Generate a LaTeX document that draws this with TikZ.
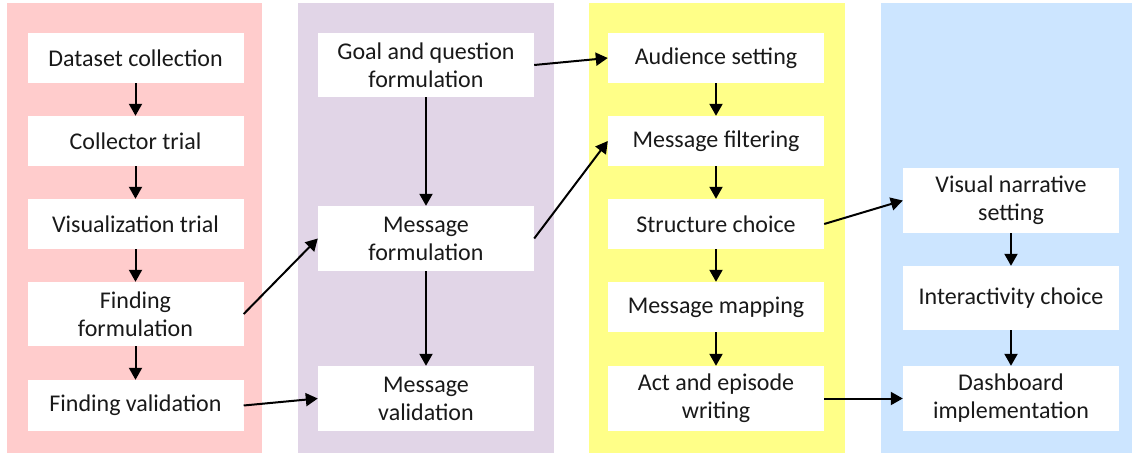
\documentclass[tikz,border=0pt]{standalone}
\usepackage{fontspec}
\setmainfont{Carlito}
\usetikzlibrary{arrows.meta}
\definecolor{cpink}{HTML}{FFCCCC}
\definecolor{cpurple}{HTML}{E1D5E7}
\definecolor{cyellow}{HTML}{FFFF88}
\definecolor{cblue}{HTML}{CCE5FF}
\tikzset{
  box/.style={rectangle, fill=white, draw=none, minimum width=216pt, inner sep=0pt, align=center, font=\fontsize{24}{28}\selectfont, text=black!90},
  hone/.style={minimum height=50pt},
  htwo/.style={minimum height=65pt},
  arr/.style={-{Triangle[length=12pt,width=13pt]}, line width=2pt, black},
  panel/.style={draw=none}
}
\begin{document}
\begin{tikzpicture}[x=1pt,y=-1pt]
\useasboundingbox (0,0) rectangle (1132,454);
\fill[white] (0,0) rectangle (1132,454);
\fill[cpink] (7,3) rectangle (262,453);
\fill[cpurple] (298,3) rectangle (554,453);
\fill[cyellow] (589,3) rectangle (845,453);
\fill[cblue] (881,3) rectangle (1132,453);

% column 1
\node[box,hone] (a1) at (135.5,58) {Dataset collection};
\node[box,hone] (a2) at (135.5,141) {Collector trial};
\node[box,hone] (a3) at (135.5,224) {Visualization trial};
\node[box,minimum height=64pt] (a4) at (135.5,314) {Finding\\formulation};
\node[box,minimum height=51pt] (a5) at (135.5,405.5) {Finding validation};

% column 2
\node[box,minimum height=64pt] (b1) at (426,65) {Goal and question\\formulation};
\node[box,htwo] (b2) at (426,238.5) {Message\\formulation};
\node[box,htwo] (b3) at (426,398.5) {Message\\validation};

% column 3
\node[box,hone] (c1) at (716,58) {Audience setting};
\node[box,hone] (c2) at (716,141) {Message filtering};
\node[box,hone] (c3) at (716,224) {Structure choice};
\node[box,hone] (c4) at (716,307) {Message mapping};
\node[box,htwo] (c5) at (716,398.5) {Act and episode\\writing};

% column 4
\node[box,htwo] (d1) at (1011,200.5) {Visual narrative\\setting};
\node[box,minimum height=64pt] (d2) at (1011,298) {Interactivity choice};
\node[box,htwo] (d3) at (1011,398.5) {Dashboard\\implementation};

% arrows
\draw[arr] (a1) -- (a2);
\draw[arr] (a2) -- (a3);
\draw[arr] (a3) -- (a4);
\draw[arr] (a4) -- (a5);
\draw[arr] (b1) -- (b2);
\draw[arr] (b2) -- (b3);
\draw[arr] (c1) -- (c2);
\draw[arr] (c2) -- (c3);
\draw[arr] (c3) -- (c4);
\draw[arr] (c4) -- (c5);
\draw[arr] (d1) -- (d2);
\draw[arr] (d2) -- (d3);
\draw[arr] (a4.east) -- (b2.west);
\draw[arr] (a5.east) -- (b3.west);
\draw[arr] (b1.east) -- (c1.west);
\draw[arr] (b2.east) -- (c2.west);
\draw[arr] (c3.east) -- (d1.west);
\draw[arr] (c5.east) -- (d3.west);
\end{tikzpicture}
\end{document}
